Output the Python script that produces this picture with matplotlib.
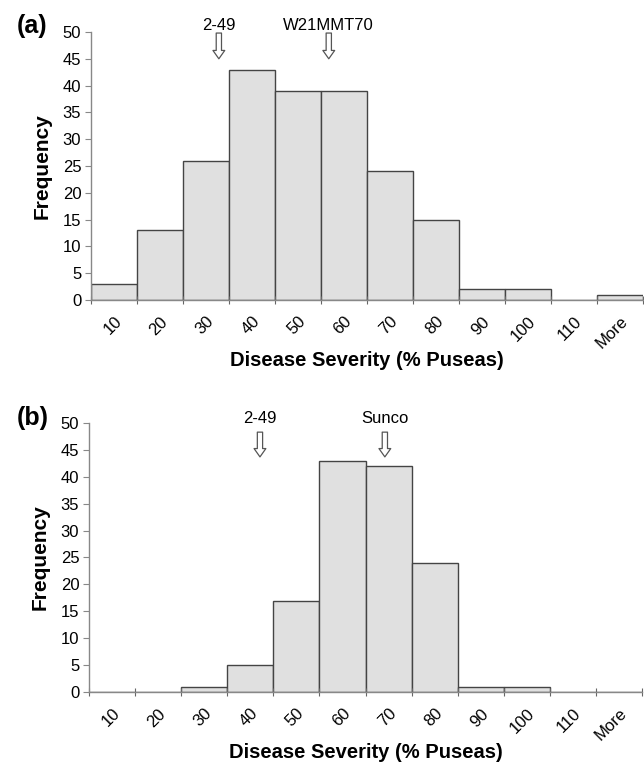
import numpy as np
import matplotlib.pyplot as plt

plt.rcParams['font.family'] = ['Liberation Sans', 'DejaVu Sans']

# bins of disease severity
cats = ["10", "20", "30", "40", "50", "60", "70", "80", "90", "100", "110", "More"]
# frequencies, panel (a) and panel (b)
freq_a = [3, 13, 26, 43, 39, 39, 24, 15, 2, 2, 0, 1]
freq_b = [0, 0, 1, 5, 17, 43, 42, 24, 1, 1, 0, 0]
# parent markers: label, position in bin units
marks_a = [("2-49", 2.28), ("W21MMT70", 4.67)]
marks_b = [("2-49", 3.21), ("Sunco", 5.92)]

fig = plt.figure(figsize=(6.44, 7.67), dpi=100)
ax_a = fig.add_axes([0.1413, 0.6089, 0.857, 0.3494])
ax_b = fig.add_axes([0.1382, 0.0978, 0.8587, 0.3507])


def draw(ax, freq, marks, arrow_y, text_y):
    x = np.arange(len(cats))
    ax.bar(x, freq, width=1.0, color="#e0e0e0", edgecolor="#444444", linewidth=1.0)
    ax.set_xlim(-0.5, len(cats) - 0.5)
    ax.set_ylim(0, 50)
    ax.set_yticks(np.arange(0, 51, 5))
    ax.tick_params(axis="y", labelsize=12, length=4, color="#888", pad=3)
    # tick marks at bin edges, labels at bin centres
    ax.set_xticks(np.arange(len(cats) + 1) - 0.5)
    ax.set_xticklabels([])
    ax.tick_params(axis="x", which="major", length=6, direction="inout", color="#666")
    ax.set_xticks(x, minor=True)
    ax.set_xticklabels(cats, minor=True, rotation=45, ha="right", va="top",
                       rotation_mode="anchor", fontsize=12)
    ax.tick_params(axis="x", which="minor", length=0, pad=10)
    for s in ["top", "right"]:
        ax.spines[s].set_visible(False)
    for s in ["left", "bottom"]:
        ax.spines[s].set_color("#888")
        ax.spines[s].set_linewidth(1.0)
    ax.set_ylabel("Frequency", fontsize=15, fontweight="bold", labelpad=8)
    ax.set_xlabel("Disease Severity (% Puseas)", fontsize=14.5, fontweight="bold", labelpad=0)
    for name, pos in marks:
        ax.annotate("", xy=(pos, arrow_y[1]), xytext=(pos, arrow_y[0]), annotation_clip=False,
                    arrowprops=dict(arrowstyle="simple,head_width=0.85,head_length=0.6,tail_width=0.38",
                                    mutation_scale=10, fc="white", ec="#555", lw=0.9,
                                    shrinkA=0, shrinkB=0))
        ax.text(pos, text_y, name, ha="center", va="center", fontsize=12, clip_on=False)


draw(ax_a, freq_a, marks_a, (49.8, 45.0), 51.3)
draw(ax_b, freq_b, marks_b, (48.3, 43.7), 50.9)

fig.text(17 / 644, 1 - 26 / 767, "(a)", fontsize=18, fontweight="bold", ha="left", va="center")
fig.text(17 / 644, 1 - 418 / 767, "(b)", fontsize=18, fontweight="bold", ha="left", va="center")

fig.savefig("out.png", dpi=100)
